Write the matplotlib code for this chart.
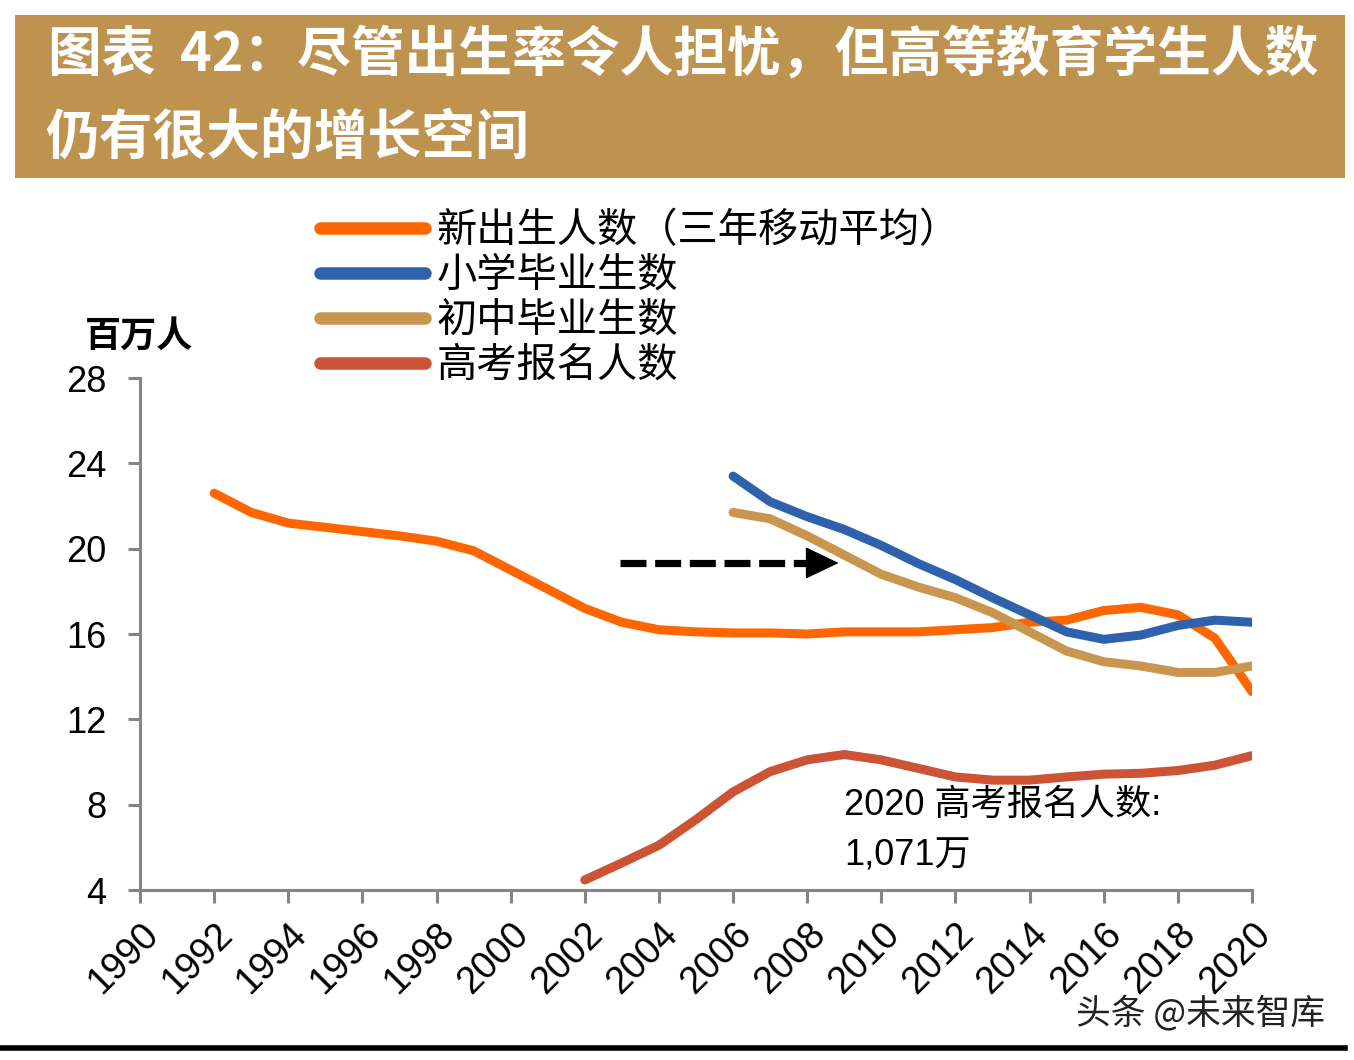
import matplotlib
matplotlib.use("Agg")
import matplotlib.pyplot as plt
from matplotlib.lines import Line2D
from matplotlib.patches import Rectangle

plt.rcParams['font.family'] = ['Noto Sans CJK SC', 'DejaVu Sans']

# ---- data ----
birth_years = list(range(1992, 2021))
births_ma3 = [22.6, 21.7, 21.2, 21.0, 20.8, 20.6, 20.35, 19.9, 19.0, 18.1,
              17.2, 16.55, 16.2, 16.1, 16.05, 16.05, 16.0, 16.1, 16.1, 16.1,
              16.2, 16.3, 16.55, 16.65, 17.1, 17.25, 16.9, 15.8, 13.3]

grad_years = list(range(2006, 2021))
primary_grads = [23.4, 22.2, 21.5, 20.9, 20.15, 19.3, 18.55, 17.7, 16.9,
                 16.1, 15.75, 15.95, 16.4, 16.65, 16.55]
junior_grads = [21.7, 21.4, 20.6, 19.7, 18.8, 18.2, 17.7, 17.0, 16.1,
                15.2, 14.7, 14.5, 14.2, 14.2, 14.5]

gaokao_years = list(range(2002, 2021))
gaokao_apps = [4.47, 5.27, 6.1, 7.3, 8.6, 9.55, 10.1, 10.35, 10.1, 9.7,
               9.3, 9.15, 9.15, 9.3, 9.43, 9.47, 9.6, 9.85, 10.3]

series_labels = ['新出生人数（三年移动平均）', '小学毕业生数', '初中毕业生数', '高考报名人数']
series_colors = ['#FF6600', '#2F62AC', '#C99650', '#CC5336']

x_ticks = list(range(1990, 2021, 2))
y_ticks = [4, 8, 12, 16, 20, 24, 28]

title_lines = ['图表  42：尽管出生率令人担忧，但高等教育学生人数', '仍有很大的增长空间']
y_unit = '百万人'
note_lines = ['2020 高考报名人数:', '1,071万']
watermark = '头条 @未来智库'

arrow_start = (2002.95, 19.33)
arrow_head_base = (2008.0, 19.33)
arrow_end = (2008.85, 19.33)

# ---- figure ----
W, H = 1354, 1060
fig = plt.figure(figsize=(W / 100, H / 100), dpi=100)
fig.patch.set_facecolor('white')

# title band
fig.patches.append(Rectangle((15 / W, 1 - 178 / H), 1330 / W, 163 / H,
                             transform=fig.transFigure, facecolor='#BE9350',
                             edgecolor='none', zorder=0))
fig.text(48 / W, 1 - 55 / H, title_lines[0], color='white', fontsize=38.7,
         fontweight='bold', va='center', ha='left')
fig.text(45 / W, 1 - 138 / H, title_lines[1], color='white', fontsize=38.7,
         fontweight='bold', va='center', ha='left')

ax = fig.add_axes([140 / W, 1 - 890 / H, (1252 - 140) / W, (890 - 378) / H])
ax.set_facecolor('white')

lw = 6.5
ax.plot(birth_years, births_ma3, color=series_colors[0], lw=lw,
        solid_capstyle='round', solid_joinstyle='round', zorder=3)
ax.plot(grad_years, primary_grads, color=series_colors[1], lw=lw,
        solid_capstyle='round', solid_joinstyle='round', zorder=3)
ax.plot(grad_years, junior_grads, color=series_colors[2], lw=lw,
        solid_capstyle='round', solid_joinstyle='round', zorder=4)
ax.plot(gaokao_years, gaokao_apps, color=series_colors[3], lw=lw,
        solid_capstyle='round', solid_joinstyle='round', zorder=3)

ax.set_xlim(1990, 2020)
ax.set_ylim(4, 28)
ax.set_xticks(x_ticks)
ax.set_yticks(y_ticks)
ax.set_xticklabels([str(v) for v in x_ticks], rotation=45, ha='right',
                   rotation_mode='anchor', family='Liberation Sans', fontsize=27)
ax.set_yticklabels([str(v) for v in y_ticks], family='Liberation Sans', fontsize=26)
for s in ['top', 'right']:
    ax.spines[s].set_visible(False)
for s in ['left', 'bottom']:
    ax.spines[s].set_color('#858585')
    ax.spines[s].set_linewidth(2.2)
ax.tick_params(axis='both', colors='#858585', length=9, width=2.2,
               labelcolor='black')
ax.tick_params(axis='x', pad=10)
ax.tick_params(axis='y', pad=15)

# dashed arrow: shaft + solid head
ax.plot([arrow_start[0], arrow_head_base[0]], [arrow_start[1], arrow_head_base[1]],
        color='black', lw=5.2, linestyle=(0, (3.6, 1.2)), solid_capstyle='butt',
        dash_capstyle='butt', zorder=5)
ax.annotate('', xy=arrow_end, xytext=arrow_head_base,
            arrowprops=dict(arrowstyle='-|>,head_length=2.2,head_width=1.05',
                            color='black', lw=1, shrinkA=0, shrinkB=0), zorder=5)

# annotation
ax.text(2009.0, 7.95, note_lines[0], fontsize=26, va='center', ha='left',
        family=['Liberation Sans', 'Noto Sans CJK SC'])
ax.text(2009.0, 5.6, note_lines[1], fontsize=26, va='center', ha='left',
        family=['Liberation Sans', 'Noto Sans CJK SC'])

# unit label
fig.text(85 / W, 1 - 336 / H, y_unit, fontsize=26, fontweight='bold',
         va='center', ha='left')

# legend
handles = [Line2D([0], [0], color=c, lw=9, solid_capstyle='round') for c in series_colors]
fig.legend(handles, series_labels, loc='upper left',
           bbox_to_anchor=(320 / W, 1 - 210 / H), frameon=False,
           fontsize=29, handlelength=2.6, handletextpad=0.3,
           labelspacing=0.1, borderpad=0.0, borderaxespad=0.0)

# watermark and bottom rule
fig.text(1325 / W, 1 - 1013 / H, watermark, fontsize=25, color='#222222',
         va='center', ha='right')
fig.add_artist(Line2D([0, 1345 / W], [1 - 1048 / H, 1 - 1048 / H],
                      transform=fig.transFigure, color='black', lw=4))

fig.savefig('out.png', dpi=100, facecolor='white')
